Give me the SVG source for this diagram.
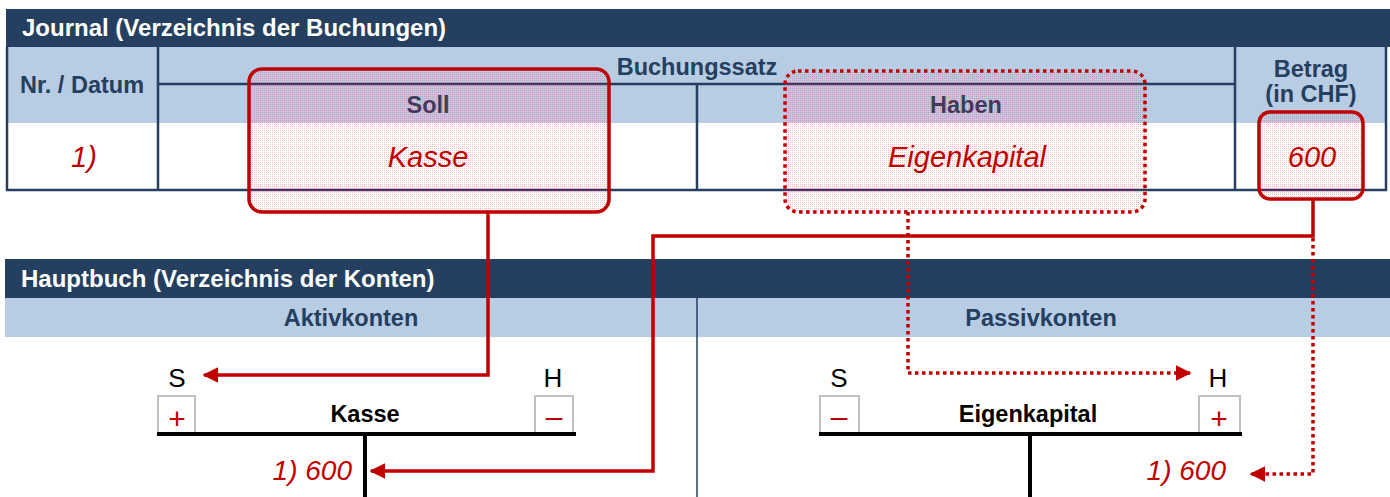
<svg xmlns="http://www.w3.org/2000/svg" width="1390" height="497" viewBox="0 0 1390 497">
<style>
.navy{fill:#243F60}
.lb{fill:#B8CCE4}
.title{font-family:"Liberation Sans",Arial,sans-serif;font-weight:bold;font-size:24px;fill:#FFFFFF}
.hd{font-family:"Liberation Sans",Arial,sans-serif;font-weight:bold;font-size:23.5px;fill:#243F60;text-anchor:middle}
.ri{font-family:"Liberation Sans",Arial,sans-serif;font-style:italic;font-size:29px;fill:#C00000;text-anchor:middle}
.grid{stroke:#243F60;stroke-width:2.5;fill:none}
.hl{fill:url(#dots);stroke:#C00000;stroke-width:3.5}
.dot{stroke-dasharray:3.5 3.5}
.con{fill:none;stroke:#C00000;stroke-width:3.5}
.sh{font-family:"Liberation Sans",Arial,sans-serif;font-size:26px;fill:#000;text-anchor:middle}
.acc{font-family:"Liberation Sans",Arial,sans-serif;font-weight:bold;font-size:23.5px;fill:#000;text-anchor:middle}
.sign{fill:#FFFFFF;stroke:#BFBFBF;stroke-width:2}
.pm{font-family:"Liberation Sans",Arial,sans-serif;font-size:30px;fill:#C00000;text-anchor:middle}
.tl{stroke:#000;stroke-width:4;fill:none}
.amt{font-family:"Liberation Sans",Arial,sans-serif;font-style:italic;font-size:28px;fill:#C00000;text-anchor:end}
</style>
<defs>
<pattern id="dots" width="2" height="2" patternUnits="userSpaceOnUse">
<rect x="0" y="0" width="1" height="1" fill="#E04848" fill-opacity="0.35"/>
</pattern>
<marker id="ah" viewBox="0 0 10 10" refX="9" refY="5" markerWidth="4.5" markerHeight="4.5" orient="auto" markerUnits="strokeWidth">
<path d="M0,0 L10,5 L0,10 Z" fill="#C00000"/>
</marker>
</defs>

<g id="journal">
<rect class="navy" x="6" y="9" width="1384" height="38"/>
<text class="title" x="22" y="36">Journal (Verzeichnis der Buchungen)</text>
<rect class="lb" x="7" y="47" width="1380" height="76"/>
<rect x="7" y="123" width="1380" height="67" fill="#FFFFFF"/>
<path class="grid" d="M7,47 V190 H1386 V47 M158,47 V190 M1235,47 V190 M158,84 H1235 M697,84 V190"/>
<text class="hd" x="82" y="93">Nr. / Datum</text>
<text class="hd" x="697" y="75">Buchungssatz</text>
<text class="hd" x="428" y="113">Soll</text>
<text class="hd" x="966" y="113">Haben</text>
<text class="hd" x="1311" y="77">Betrag</text>
<text class="hd" x="1311" y="102">(in CHF)</text>
<text class="ri" x="84" y="167">1)</text>
</g>

<g id="hauptbuch">
<rect class="navy" x="5" y="259" width="1385" height="39"/>
<text class="title" x="21" y="287">Hauptbuch (Verzeichnis der Konten)</text>
<rect class="lb" x="5" y="298" width="1385" height="39"/>
<line x1="697" y1="298" x2="697" y2="497" stroke="#243F60" stroke-width="1.5"/>
<text class="hd" x="351" y="326">Aktivkonten</text>
<text class="hd" x="1041" y="326">Passivkonten</text>
</g>

<g id="box-soll">
<rect class="hl" x="249" y="69" width="360" height="143" rx="13"/>
<text class="ri" x="428" y="167">Kasse</text>
</g>
<g id="box-haben">
<rect class="hl dot" x="785" y="71" width="360" height="141" rx="13"/>
<text class="ri" x="967" y="167">Eigenkapital</text>
</g>
<g id="box-betrag">
<rect class="hl" x="1259" y="112" width="104" height="87" rx="11"/>
<text class="ri" x="1312" y="167">600</text>
</g>

<g id="konto-kasse">
<text class="sh" x="177" y="387">S</text>
<text class="sh" x="553" y="387">H</text>
<rect class="sign" x="158" y="396" width="37" height="38"/>
<rect class="sign" x="535" y="396" width="38" height="38"/>
<text class="pm" x="177" y="429">+</text>
<text class="pm" x="554" y="427">–</text>
<text class="acc" x="365" y="422">Kasse</text>
<path class="tl" d="M157,434 H576 M365,434 V497"/>
<text class="amt" x="352" y="480">1) 600</text>
</g>

<g id="konto-eigenkapital">
<text class="sh" x="839" y="387">S</text>
<text class="sh" x="1218" y="387">H</text>
<rect class="sign" x="820" y="396" width="39" height="38"/>
<rect class="sign" x="1199" y="396" width="41" height="38"/>
<text class="pm" x="839" y="427">–</text>
<text class="pm" x="1219" y="429">+</text>
<text class="acc" x="1028" y="422">Eigenkapital</text>
<path class="tl" d="M819,434 H1242 M1030,434 V497"/>
<text class="amt" x="1226" y="480">1) 600</text>
</g>

<g id="connectors">
<path class="con" d="M488,212 V375 H204" marker-end="url(#ah)"/>
<path class="con" d="M1313,199 V236 H653 V471 H371" marker-end="url(#ah)"/>
<path class="con dot" d="M908,212 V373 H1190" marker-end="url(#ah)"/>
<path class="con dot" d="M1313,238 V474 H1251" marker-end="url(#ah)"/>
</g>
</svg>
